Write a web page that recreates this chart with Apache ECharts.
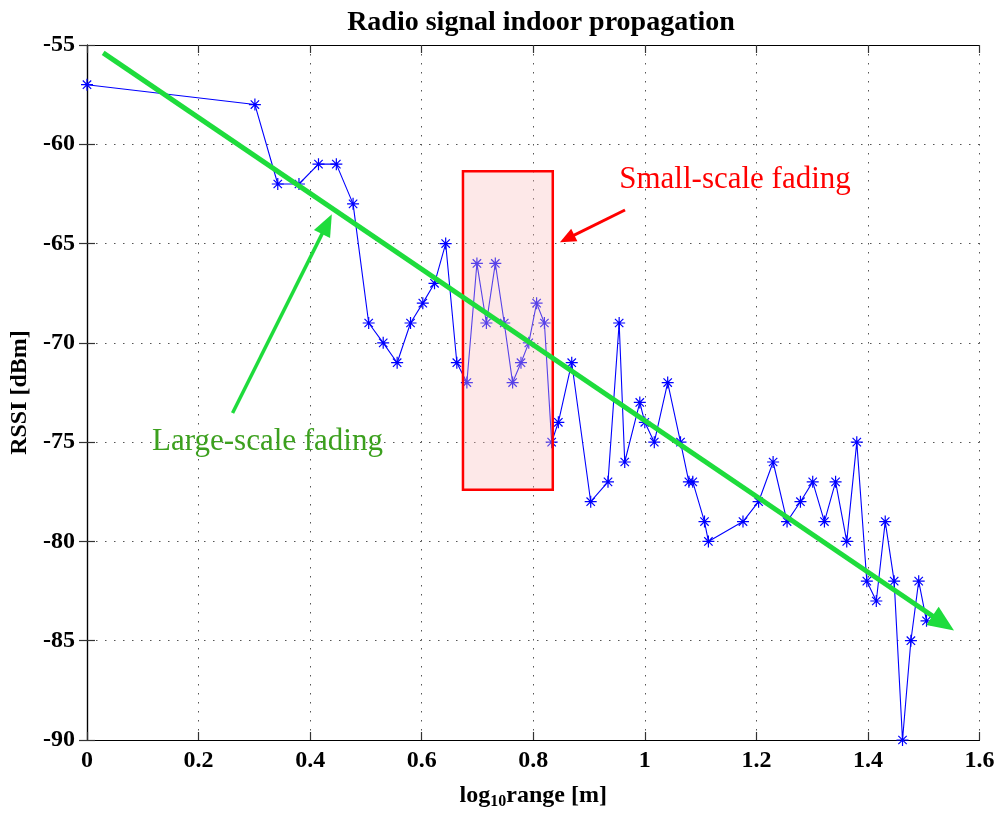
<!DOCTYPE html>
<html>
<head>
<meta charset="utf-8">
<title>Radio signal indoor propagation</title>
<script src="https://cdn.jsdelivr.net/npm/echarts@6/dist/echarts.min.js"></script>
<style>
  html, body { margin: 0; padding: 0; background: #ffffff; }
  #chart { width: 1000px; height: 815px; }
</style>
</head>
<body>
<div id="chart"></div>
<script>
// log10 of the measurement distance [m]
const logRange = [
  0.000, 0.301, 0.342, 0.380, 0.415, 0.447, 0.477, 0.505, 0.531, 0.556,
  0.580, 0.602, 0.623, 0.643, 0.663, 0.681, 0.699, 0.716, 0.732, 0.748,
  0.763, 0.778, 0.792, 0.806, 0.820, 0.833, 0.845, 0.869, 0.903, 0.934,
  0.954, 0.964, 0.991, 1.000, 1.017, 1.041, 1.064, 1.079, 1.086, 1.107,
  1.114, 1.176, 1.204, 1.230, 1.255, 1.279, 1.301, 1.322, 1.342, 1.362,
  1.380, 1.398, 1.415, 1.431, 1.447, 1.462, 1.477, 1.491, 1.505
];
// received signal strength [dBm]
const rssi = [
  -57, -58, -62, -62, -61, -61, -63, -69, -70, -71,
  -69, -68, -67, -65, -71, -72, -66, -69, -66, -69,
  -72, -71, -70, -68, -69, -75, -74, -71, -78, -77,
  -69, -76, -73, -74, -75, -72, -75, -77, -77, -79,
  -80, -79, -78, -76, -79, -78, -77, -79, -77, -80,
  -75, -82, -83, -79, -82, -90, -85, -82, -84
];

// annotations, in data coordinates (arrow ends sit at the middle of each arrowhead)
const trendLine = [[0.029, -55.4], [1.535, -84.12]];
const fadingBox = [[0.674, -61.36], [0.835, -77.4]];
const smallArrow = [[0.9645, -63.31], [0.8607, -64.75]];
const largeArrow = [[0.261, -73.53], [0.4301, -64.02]];
const smallLabelPos = [1.1617, -61.78];
const largeLabelPos = [0.3236, -74.98];

const xTicks = { min: 0, max: 1.6, step: 0.2 };
const yTicks = { min: -90, max: -55, step: 5 };

const serif = '"Liberation Serif", "Times New Roman", serif';
const asterisk = 'path://M10,0L10,20M0,10L20,10M3,3L17,17M3,17L17,3';

const chart = echarts.init(document.getElementById('chart'), null, { renderer: 'canvas' });

const frameLine = { show: true, lineStyle: { color: '#000', width: 1.2 } };
const innerTick = { show: true, inside: true, length: 8, lineStyle: { color: '#333', width: 1.2 } };
const dotted = { show: true, lineStyle: { color: '#555', width: 1, type: [1.5, 7.5] } };
const tickFont = { fontFamily: serif, fontWeight: 'bold', fontSize: 24, color: '#000' };

chart.setOption({
  animation: false,
  backgroundColor: '#ffffff',
  title: {
    text: 'Radio signal indoor propagation',
    left: 536, top: 4, textAlign: 'center',
    textStyle: { fontFamily: serif, fontWeight: 'bold', fontSize: 28, color: '#000' }
  },
  grid: { left: 87, right: 20.5, top: 45, bottom: 65, containLabel: false },
  xAxis: [
    {
      type: 'value', min: xTicks.min, max: xTicks.max, interval: xTicks.step,
      axisLine: frameLine, axisTick: innerTick, splitLine: dotted,
      axisLabel: Object.assign({ margin: 9, formatter: v => String(+v.toFixed(1)) }, tickFont),
      name: '{t|log}{s|10}{t|range [m]}', nameLocation: 'middle', nameGap: 42,
      nameTextStyle: {
        rich: {
          t: { fontFamily: serif, fontWeight: 'bold', fontSize: 24, color: '#000' },
          s: { fontFamily: serif, fontWeight: 'bold', fontSize: 16, color: '#000', verticalAlign: 'bottom', padding: [12, 0, 0, 0] }
        }
      }
    },
    {
      type: 'value', position: 'top', min: xTicks.min, max: xTicks.max, interval: xTicks.step,
      axisLine: frameLine, axisTick: innerTick, splitLine: { show: false }, axisLabel: { show: false }
    }
  ],
  yAxis: [
    {
      type: 'value', min: yTicks.min, max: yTicks.max, interval: yTicks.step,
      axisLine: frameLine, axisTick: innerTick, splitLine: dotted,
      axisLabel: Object.assign({ margin: 12 }, tickFont),
      name: 'RSSI [dBm]', nameLocation: 'middle', nameGap: 55,
      nameTextStyle: { fontFamily: serif, fontWeight: 'bold', fontSize: 24, color: '#000' }
    },
    {
      type: 'value', position: 'right', min: yTicks.min, max: yTicks.max, interval: yTicks.step,
      axisLine: frameLine, axisTick: innerTick, splitLine: { show: false }, axisLabel: { show: false }
    }
  ],
  series: [
    {
      name: 'RSSI',
      type: 'line',
      z: 2,
      data: logRange.map((x, i) => [x, rssi[i]]),
      lineStyle: { color: '#0000ff', width: 1.1 },
      symbol: asterisk,
      symbolSize: 12,
      itemStyle: { color: '#0000ff', borderColor: '#0000ff', borderWidth: 1.2 }
    },
    {
      name: 'fading box',
      type: 'line',
      data: [],
      markArea: {
        z: 3,
        silent: true,
        itemStyle: { color: 'rgba(250,190,190,0.35)', borderColor: '#ff0000', borderWidth: 2.5 },
        data: [[{ coord: fadingBox[0] }, { coord: fadingBox[1] }]]
      }
    },
    {
      name: 'annotations',
      type: 'line',
      data: [],
      markLine: {
        z: 5,
        silent: true,
        symbol: ['none', 'triangle'],
        label: { show: false },
        data: [
          [
            { coord: trendLine[0], lineStyle: { color: '#1edc3c', width: 5, type: 'solid' } },
            { coord: trendLine[1], symbolSize: [22, 26] }
          ],
          [
            { coord: smallArrow[0], lineStyle: { color: '#ff0000', width: 3, type: 'solid' } },
            { coord: smallArrow[1], symbolSize: [14, 16] }
          ],
          [
            { coord: largeArrow[0], lineStyle: { color: '#1edc3c', width: 3.5, type: 'solid' } },
            { coord: largeArrow[1], symbolSize: [18, 22] }
          ]
        ]
      },
      markPoint: {
        z: 6,
        silent: true,
        symbol: 'circle',
        symbolSize: 1,
        itemStyle: { color: 'rgba(0,0,0,0)' },
        data: [
          {
            coord: smallLabelPos, value: 1,
            label: { show: true, position: 'inside', formatter: 'Small-scale fading',
              fontFamily: serif, fontSize: 31, color: '#ff0000' }
          },
          {
            coord: largeLabelPos, value: 1,
            label: { show: true, position: 'inside', formatter: 'Large-scale fading',
              fontFamily: serif, fontSize: 31, color: '#3ca01e' }
          }
        ]
      }
    }
  ]
});
</script>
</body>
</html>
